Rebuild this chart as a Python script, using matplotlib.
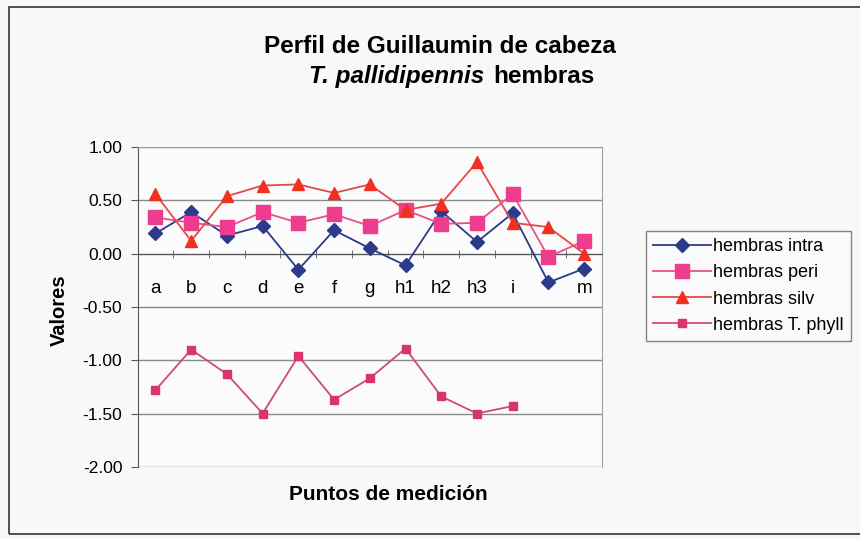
import matplotlib.pyplot as plt
from matplotlib.patches import Rectangle

plt.rcParams['font.family'] = ['Liberation Sans', 'DejaVu Sans']

# Data (12th label is hidden behind a marker in the original)
puntos = ['a', 'b', 'c', 'd', 'e', 'f', 'g', 'h1', 'h2', 'h3', 'i', '', 'm']
intra = [0.19, 0.39, 0.17, 0.26, -0.15, 0.22, 0.05, -0.11, 0.40, 0.11, 0.38, -0.27, -0.14]
peri = [0.34, 0.29, 0.25, 0.39, 0.29, 0.37, 0.26, 0.41, 0.28, 0.29, 0.56, -0.03, 0.12]
silv = [0.56, 0.12, 0.54, 0.64, 0.65, 0.57, 0.65, 0.41, 0.47, 0.86, 0.29, 0.25, 0.00]
phyl = [-1.28, -0.90, -1.13, -1.50, -0.96, -1.37, -1.17, -0.89, -1.34, -1.50, -1.43]
yticks = [-2.0, -1.5, -1.0, -0.5, 0.0, 0.5, 1.0]

fig = plt.figure(figsize=(8.6, 5.39), dpi=100, facecolor='#f8f8f8')
ax = fig.add_axes([0.160, 0.134, 0.540, 0.593])
ax.set_facecolor('#fbfbfb')

x = list(range(len(puntos)))

ax.plot(x, intra, color='#2b3a8a', marker='D', markersize=7, linewidth=1.3,
        label='hembras intra', zorder=3)
ax.plot(x, peri, color='#e8508a', marker='s', markersize=9.5, markerfacecolor='#ee3d8f',
        markeredgecolor='#ee3d8f', linewidth=1.3, label='hembras peri', zorder=3)
ax.plot(x, silv, color='#e24a4a', marker='^', markersize=9, markerfacecolor='#f03020',
        markeredgecolor='#f03020', linewidth=1.3, label='hembras silv', zorder=3)
ax.plot(x[:len(phyl)], phyl, color='#d04a78', marker='s', markersize=6,
        markerfacecolor='#d8356e', markeredgecolor='#d8356e', linewidth=1.3,
        label='hembras T. phyll', zorder=3)

ax.set_xlim(-0.5, len(puntos) - 0.5)
ax.set_ylim(-2.0, 1.0)
ax.set_yticks(yticks)
ax.set_yticklabels(['%.2f' % v for v in yticks])
ax.yaxis.grid(True, color='#8a8a8a', linewidth=1.0)
ax.set_axisbelow(True)

# x axis crosses at zero, Excel style
ax.spines['bottom'].set_position(('data', 0))
ax.spines['bottom'].set_color('#555555')
ax.spines['top'].set_color('#a0a0a0')
ax.spines['right'].set_color('#a0a0a0')
ax.spines['left'].set_color('#555555')
ax.set_xticks(x)
ax.set_xticklabels(puntos)
ax.set_xticks([i + 0.5 for i in x[:-1]], minor=True)
ax.tick_params(axis='x', which='major', length=0, pad=19, labelsize=13.5)
ax.tick_params(axis='x', which='minor', length=6, direction='inout', color='#555555')
ax.tick_params(axis='y', length=5, direction='out', labelsize=12.5, color='#555555', pad=6)

ax.set_ylabel('Valores', fontsize=14.5, fontweight='bold')
ax.yaxis.set_label_coords(-0.147, 0.49)

fig.text(0.452, (539 - 500) / 539, 'Puntos de medición', ha='center', va='baseline',
         fontsize=15, fontweight='bold')

fig.text(0.512, (539 - 53) / 539, 'Perfil de Guillaumin de cabeza', ha='center',
         va='baseline', fontsize=17.5, fontweight='bold')
fig.text(0.563, (539 - 83) / 539, 'T. pallidipennis', ha='right', va='baseline',
         fontsize=17.5, style='italic', fontweight='bold')
fig.text(0.573, (539 - 83) / 539, 'hembras', ha='left', va='baseline', fontsize=17.5,
         fontweight='bold')

leg = fig.legend(loc='upper left', bbox_to_anchor=(0.751, 0.571), fontsize=13,
                 frameon=True, fancybox=False, edgecolor='#666666', borderaxespad=0,
                 handlelength=3.2, labelspacing=0.5, borderpad=0.4, handletextpad=0.1)
leg.get_frame().set_linewidth(1.0)
leg.get_frame().set_facecolor('#fbfbfb')

# outer chart border
fig.patches.append(Rectangle((0.010, 0.010), 0.995, 0.977, transform=fig.transFigure,
                             fill=False, edgecolor='#333333', linewidth=1.2))

fig.savefig('out.png', dpi=100, facecolor=fig.get_facecolor())
